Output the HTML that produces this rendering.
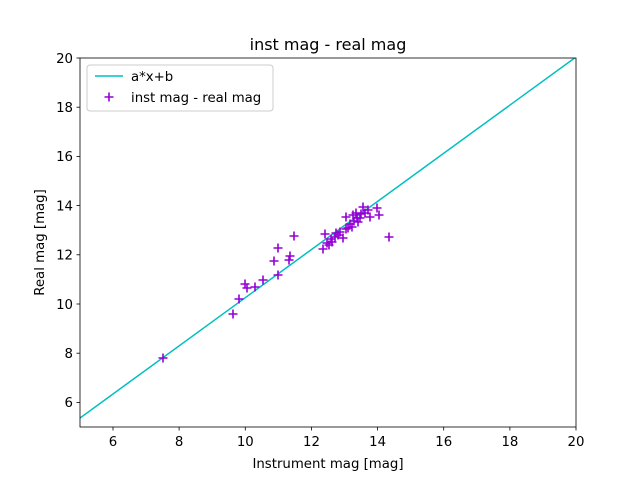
<!DOCTYPE html><html><head><style>body{margin:0;background:#fff}svg text{font-family:"DejaVu Sans",sans-serif;fill:#000}</style></head><body>
<svg width="640" height="480" xmlns="http://www.w3.org/2000/svg">
<rect width="640" height="480" fill="#fff"/>
<defs><clipPath id="c"><rect x="80" y="58" width="496" height="369"/></clipPath>
<g id="p"><path d="M-4.5 0H4.5M0 -4.5V4.5" stroke="#9400d3" stroke-width="1.6"/></g></defs>
<g clip-path="url(#c)"><line x1="80" y1="418" x2="576" y2="57" stroke="#00bfbf" stroke-width="1.5"/></g>
<g>
<use href="#p" x="163" y="358"/><use href="#p" x="233" y="314"/><use href="#p" x="239" y="299"/><use href="#p" x="245" y="284"/><use href="#p" x="247" y="288"/><use href="#p" x="255" y="287"/><use href="#p" x="263" y="280"/><use href="#p" x="278" y="275"/><use href="#p" x="274" y="261"/><use href="#p" x="289" y="260"/><use href="#p" x="290" y="256"/><use href="#p" x="278" y="248"/><use href="#p" x="294" y="236"/><use href="#p" x="323" y="249"/><use href="#p" x="325" y="234"/><use href="#p" x="329" y="245"/><use href="#p" x="332" y="242"/><use href="#p" x="335" y="237"/><use href="#p" x="338" y="235"/><use href="#p" x="343" y="238"/><use href="#p" x="346" y="217"/><use href="#p" x="348" y="228"/><use href="#p" x="352" y="227"/><use href="#p" x="353" y="215"/><use href="#p" x="356" y="213"/><use href="#p" x="358" y="222"/><use href="#p" x="360" y="218"/><use href="#p" x="363" y="207"/><use href="#p" x="368" y="210"/><use href="#p" x="370" y="217"/><use href="#p" x="377" y="208"/><use href="#p" x="379" y="215"/><use href="#p" x="389" y="237"/>
<use href="#p" x="340" y="232"/><use href="#p" x="350" y="224"/><use href="#p" x="354" y="221"/><use href="#p" x="357" y="218"/><use href="#p" x="361" y="214"/><use href="#p" x="331" y="239"/><use href="#p" x="336" y="233"/><use href="#p" x="346" y="229"/><use href="#p" x="365" y="213"/><use href="#p" x="327" y="243"/>
</g>
<rect x="80" y="58" width="496" height="369" fill="none" stroke="#000" stroke-width="0.8"/>
<g stroke="#000" stroke-width="0.8">
<line x1="113" y1="427" x2="113" y2="430.5"/><line x1="179.1" y1="427" x2="179.1" y2="430.5"/><line x1="245.3" y1="427" x2="245.3" y2="430.5"/><line x1="311.5" y1="427" x2="311.5" y2="430.5"/><line x1="377.6" y1="427" x2="377.6" y2="430.5"/><line x1="443.7" y1="427" x2="443.7" y2="430.5"/><line x1="509.9" y1="427" x2="509.9" y2="430.5"/><line x1="576" y1="427" x2="576" y2="430.5"/>
<line x1="76.5" y1="402.4" x2="80" y2="402.4"/><line x1="76.5" y1="353.2" x2="80" y2="353.2"/><line x1="76.5" y1="304" x2="80" y2="304"/><line x1="76.5" y1="254.8" x2="80" y2="254.8"/><line x1="76.5" y1="205.6" x2="80" y2="205.6"/><line x1="76.5" y1="156.4" x2="80" y2="156.4"/><line x1="76.5" y1="107.2" x2="80" y2="107.2"/><line x1="76.5" y1="58" x2="80" y2="58"/>
</g>
<g font-size="13.3" text-anchor="middle">
<text x="113" y="446">6</text><text x="179.1" y="446">8</text><text x="245.3" y="446">10</text><text x="311.5" y="446">12</text><text x="377.6" y="446">14</text><text x="443.7" y="446">16</text><text x="509.9" y="446">18</text><text x="576" y="446">20</text>
</g>
<g font-size="13.3" text-anchor="end">
<text x="73" y="407">6</text><text x="73" y="358">8</text><text x="73" y="309">10</text><text x="73" y="259.6">12</text><text x="73" y="210.4">14</text><text x="73" y="161.2">16</text><text x="73" y="112">18</text><text x="73" y="62.8">20</text>
</g>
<text x="328" y="468" font-size="13.3" text-anchor="middle">Instrument mag [mag]</text>
<text transform="translate(44,242.5) rotate(-90)" font-size="13.3" text-anchor="middle">Real mag [mag]</text>
<text x="328" y="50" font-size="16" text-anchor="middle">inst mag - real mag</text>
<rect x="87" y="65" width="186" height="46" rx="3" fill="#fff" fill-opacity="0.8" stroke="#ccc"/>
<line x1="95" y1="76" x2="123" y2="76" stroke="#00bfbf" stroke-width="1.5"/>
<text x="131" y="81" font-size="13.3">a*x+b</text>
<use href="#p" x="109" y="97"/>
<text x="131" y="102" font-size="13.3">inst mag - real mag</text>
</svg></body></html>
